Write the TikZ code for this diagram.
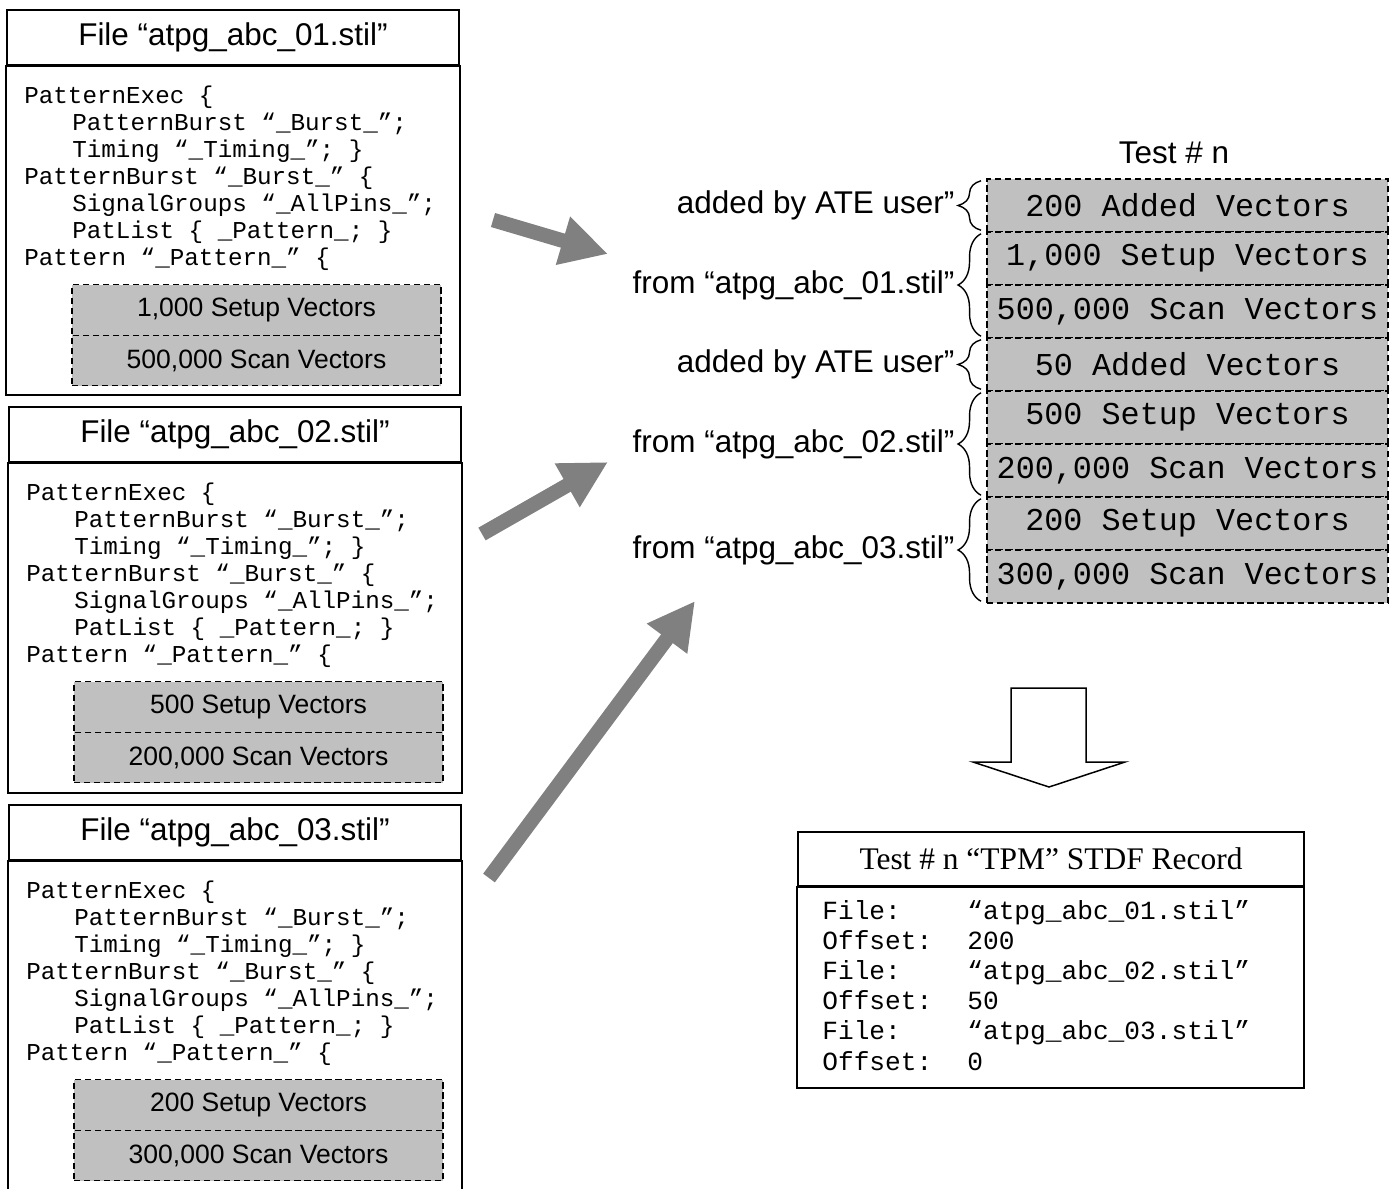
\documentclass[tikz,border=0pt]{standalone}
\usepackage{fontspec}
\setmainfont{Liberation Sans}
\setmonofont{Liberation Mono}
\newfontfamily\recserif{Liberation Serif}
\usetikzlibrary{positioning,arrows.meta,decorations.pathreplacing}

\definecolor{vecgray}{RGB}{192,192,192}
\definecolor{arrgray}{RGB}{128,128,128}

\newcommand{\ttlsize}{\fontsize{17.9}{21}\selectfont}
\newcommand{\codesize}{\fontsize{13.8}{15.3}\selectfont}
\newcommand{\vecsize}{\fontsize{15.1}{18}\selectfont}
\newcommand{\stksize}{\fontsize{18.1}{21}\selectfont}
\newcommand{\recsize}{\fontsize{14.9}{17}\selectfont}

\tikzset{
  boxline/.style={line width=1.1pt},
  filetitle/.style={draw, boxline, minimum width=9.04cm, minimum height=1.1cm, inner sep=0pt, font=\ttlsize},
  codeline/.style={anchor=base west, inner sep=0pt, font=\codesize\ttfamily},
  vecbox/.style={draw, dash pattern=on 3.5pt off 2.2pt, line width=0.8pt, fill=vecgray, minimum width=7.38cm, minimum height=1.01cm, inner sep=0pt, outer sep=0pt, font=\vecsize},
  stackrow/.style={vecbox, minimum width=8.02cm, minimum height=1.06cm, font=\stksize\ttfamily},
  brace/.style={decorate, decoration={brace, amplitude=0.46cm}, line width=0.8pt},
  bracelabel/.style={anchor=east, inner sep=0pt, xshift=-0.52cm, font=\ttlsize},
  bigarrow/.style={draw=arrgray, line width=8.3pt, -{Triangle[length=0.94cm, width=0.94cm]}},
  recline/.style={anchor=base west, inner sep=0pt, font=\recsize\ttfamily},
}

\begin{document}
\begin{tikzpicture}[x=0.02cm, y=-0.02cm]
\useasboundingbox (0,0) rectangle (1397,1188);
% the three stil files
\foreach \k/\dx/\dy/\bot/\nsetup/\nscan in {1/0/0/395/{1,000}/{500,000}, 2/2/397/793/500/{200,000}, 3/2/795/1200/200/{300,000}} {
	\node[filetitle] (title\k) at (233+\dx,37.5+\dy) {File “atpg\_abc\_0\k.stil”};
	\draw[boxline] (title\k.south west) rectangle (460+\dx,\bot);
	\foreach \i/\ind/\txt in {0/0/{PatternExec \{}, 1/1/{PatternBurst “\_Burst\_”;}, 2/1/{Timing “\_Timing\_”; \}}, 3/0/{PatternBurst “\_Burst\_” \{}, 4/1/{SignalGroups “\_AllPins\_”;}, 5/1/{PatList \{ \_Pattern\_; \}}, 6/0/{Pattern “\_Pattern\_” \{}}
		\node[codeline] (code\k-\i) at (24+\dx+48*\ind, 103+\dy+27*\i) {\txt};
	\node[vecbox] (setup\k) at (256.5+\dx,310+\dy) {\nsetup\ Setup Vectors};
	\node[vecbox, below=0pt of setup\k] (scan\k) {\nscan\ Scan Vectors};
}
% test n
\node[font=\ttlsize] (testn) at (1174,153) {Test \# n};
\foreach \i/\txt in {1/{200 Added Vectors}, 2/{1,000 Setup Vectors}, 3/{500,000 Scan Vectors}, 4/{50 Added Vectors}, 5/{500 Setup Vectors}, 6/{200,000 Scan Vectors}, 7/{200 Setup Vectors}, 8/{300,000 Scan Vectors}}
	\node[stackrow] (row\i) at (1187.5,152.5+53*\i) {\txt};
\foreach \a/\b/\txt in {1/1/{added by ATE user”}, 2/3/{from “atpg\_abc\_01.stil”}, 4/4/{added by ATE user”}, 5/6/{from “atpg\_abc\_02.stil”}, 7/8/{from “atpg\_abc\_03.stil”}}
	\draw[brace] ([xshift=-0.12cm, yshift=1pt]row\b.south west) -- node[bracelabel] (lab\a) {\txt} ([xshift=-0.12cm, yshift=-1pt]row\a.north west);
% gray arrows
\coordinate (a1s) at (493,220); \coordinate (a1e) at (608,254);
\coordinate (a2s) at (482,534); \coordinate (a2e) at (608,462);
\coordinate (a3s) at (489,878); \coordinate (a3e) at (695,601);
\foreach \k in {1,2,3} \draw[bigarrow] (a\k s) -- (a\k e);
% block arrow
\draw[line width=0.85pt, fill=white] (1011,688) -- (1086,688) -- (1086,762) -- (1125,762) -- (1049,787) -- (973,762) -- (1011,762) -- cycle;
% STDF record
\node[draw, boxline, minimum width=10.12cm, minimum height=1.08cm, inner sep=0pt, font=\recserif\ttlsize] (rectitle) at (1051,859) {Test \# n “TPM” STDF Record};
\draw[boxline] (rectitle.south west) rectangle (1304,1088);
\foreach \i/\key/\val in {0/File:/{“atpg\_abc\_01.stil”}, 1/Offset:/200, 2/File:/{“atpg\_abc\_02.stil”}, 3/Offset:/50, 4/File:/{“atpg\_abc\_03.stil”}, 5/Offset:/0} {
	\node[recline] (key\i) at (822,919+30.2*\i) {\key};
	\node[recline] (val\i) at (967,919+30.2*\i) {\val};
}
\end{tikzpicture}
\end{document}
